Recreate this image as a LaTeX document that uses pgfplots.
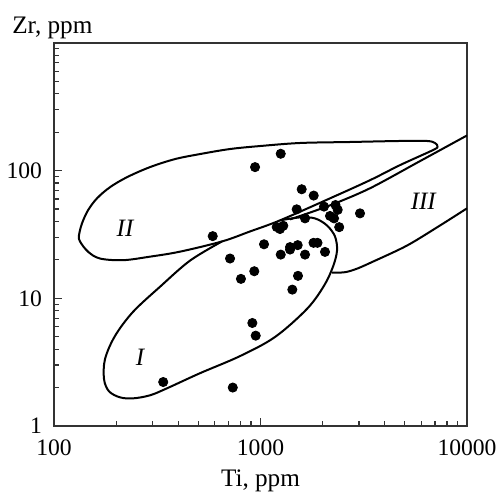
\documentclass[border=0pt]{standalone}
\usepackage{fontspec}
\setmainfont{Liberation Serif}
\usepackage{pgfplots}
\pgfplotsset{compat=1.18}
\begin{document}
\fontsize{11.8}{13}\selectfont
\begin{tikzpicture}
\begin{axis}[
  name=ax,
  scale only axis, width=206.5pt, height=191.5pt,
  xmode=log, ymode=log,
  xmin=100, xmax=10000, ymin=1, ymax=1000,
  xtick={100,1000,10000}, xticklabels={100,1000,10000},
  ytick={1,10,100,1000}, yticklabels={1,10,100,{}},
  minor xtick={200,300,400,500,600,700,800,900,2000,3000,4000,5000,6000,7000,8000,9000},
  minor ytick={2,3,4,5,6,7,8,9,20,30,40,50,60,70,80,90,200,300,400,500,600,700,800,900},
  tick pos=left, tick align=inside,
  major tick length=3.85pt, minor tick length=2.6pt,
  axis line style={line width=0.8pt, black!80},
  every tick/.style={black!80, line width=0.6pt},
  xticklabel style={yshift=-2.75pt},
  yticklabel style={xshift=-1.9pt},
  xlabel={Ti, ppm}, ylabel={Zr, ppm},
  every axis x label/.style={at={(rel axis cs:0.5,0)}, anchor=base, yshift=-30.4pt, font=\fontsize{12.6}{14}\selectfont},
  every axis y label/.style={at={(rel axis cs:0,1)}, anchor=base west, xshift=-25pt, yshift=4.8pt, font=\fontsize{12.6}{14}\selectfont},
]
% Field II
\addplot[black, line width=1pt, smooth cycle, tension=0.55] coordinates {
(132.1,31.05) (136.6,38.6) (146.1,48.9) (161.5,60.7) (186.7,74.2) (225.7,88.9)
(291.6,106.6) (385.5,123.2) (509.3,134.9) (711.6,147.7) (994.5,155.9) (1554,164.7)
(2713,167.7) (4738,170.8) (6401,170.8) (6998,164.7) (7196,154.5) (6845,145.0)
(4738,110.5) (3391,84.2) (2171,60.7) (1243,40.8) (889.6,33.4) (651,27.9)
(407.5,23.2) (291.6,21.2) (215.9,19.9) (167.0,20.5) (146.1,23.2) (133.6,27.9)
};
% Field I
\addplot[black, line width=1pt, smooth, tension=0.55] coordinates {
(1243,40.8) (1554,43.05) (1836,42.27) (2099,37.23) (2295,30.5) (2347,23.66)
(2244,17.7) (2030,12.54) (1680,8.27) (1176,4.98) (795.5,3.526) (509.3,2.591)
(352.6,1.974) (291.6,1.739) (241.3,1.646) (208.7,1.677) (184.7,1.869) (174.7,2.323)
(176.6,3.339) (197.4,5.07) (241.3,7.83) (326.1,12.32) (455.7,19.74) (651,27.9)
};
% Field III upper
\addplot[black, line width=1pt, smooth, tension=0.5] coordinates {
(1390,41.5) (2171,53.5) (3391,72.8) (5922,118.8) (10000,188.7)
};
% Field III lower
\addplot[black, line width=1pt, smooth, tension=0.5] coordinates {
(2219,15.88) (2566,16.02) (2933,17.07) (3506,19.39) (5123,25.9) (7401,37.2) (10000,50.7)
};
% samples
\addplot[only marks, mark=*, mark size=2.3pt, black] coordinates {
(338,2.21) (734,2.0) (913,6.41) (948,5.1) (587,30.7) (712,20.5) (804,14.2)
(933,16.3) (1040,26.5) (941,106.6) (1253,135.6) (1583,71.5) (1810,63.8)
(1497,49.8) (2030,52.3) (2308,53.8) (2365,49.3) (3033,46.3) (1643,42.3)
(2171,44.2) (2270,42.3) (2405,36.1) (1198,36.2) (1243,34.9) (1289,37.0)
(1390,25.2) (1390,24.1) (1514,26.1) (1253,22.0) (1643,22.0) (1806,27.2)
(1888,27.2) (2053,23.1) (1519,15.0) (1426,11.7)
};
\node[font=\fontsize{12.5}{14}\selectfont\itshape] at (axis cs:260.9,3.46) {I};
\node[font=\fontsize{12.5}{14}\selectfont\itshape] at (axis cs:220.8,35.3) {II};
\node[font=\fontsize{12.5}{14}\selectfont\itshape] at (axis cs:6142,57.2) {III};
\end{axis}
\pgfresetboundingbox
\path[use as bounding box] ([xshift=-27pt,yshift=-34.25pt]ax.south west) rectangle ([xshift=18pt,yshift=21.5pt]ax.north east);
\end{tikzpicture}
\end{document}
